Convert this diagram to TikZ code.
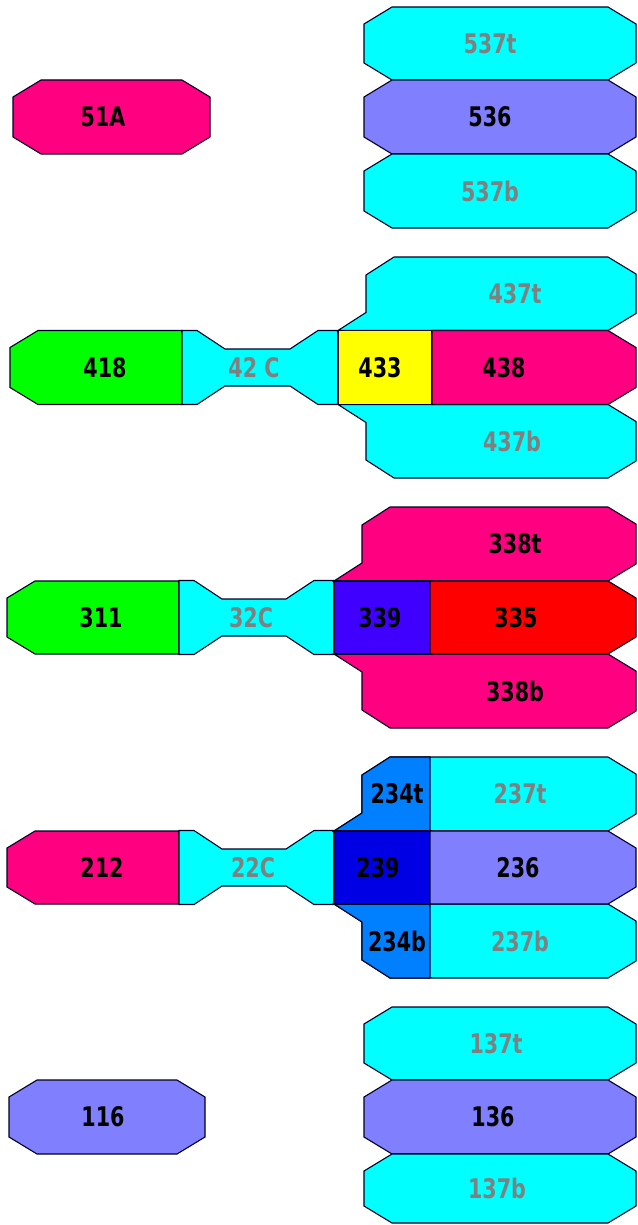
\documentclass[tikz,border=0pt]{standalone}
\usepackage{fontspec}
\usepackage{tikz}
\newfontfamily\cellfont{DejaVu Sans Condensed}
\definecolor{rose}{RGB}{255,0,128}
\definecolor{aqua}{RGB}{0,255,255}
\definecolor{lilac}{RGB}{128,128,255}
\definecolor{grass}{RGB}{0,255,0}
\definecolor{sunny}{RGB}{255,255,0}
\definecolor{violetblue}{RGB}{64,0,255}
\definecolor{scarlet}{RGB}{255,0,0}
\definecolor{deepblue}{RGB}{0,0,228}
\definecolor{skyblue}{RGB}{0,128,255}
\definecolor{labelgray}{RGB}{128,128,128}
\newcommand{\cutx}{28}
\newcommand{\cuty}{17}
% fill, left x, right x, top y, bottom y
\newcommand{\octbox}[5]{%
  \filldraw[cell, fill=#1] ({#2+\cutx},#4) -- ({#3-\cutx},#4) -- (#3,{#4+\cuty})
    -- (#3,{#5-\cuty}) -- ({#3-\cutx},#5) -- ({#2+\cutx},#5) -- (#2,{#5-\cuty})
    -- (#2,{#4+\cuty}) -- cycle;}
\newcommand{\leftbox}[5]{%
  \filldraw[cell, fill=#1] ({#2+\cutx},#4) -- (#3,#4) -- (#3,#5) -- ({#2+\cutx},#5)
    -- (#2,{#5-\cuty}) -- (#2,{#4+\cuty}) -- cycle;}
\newcommand{\rightbox}[5]{%
  \filldraw[cell, fill=#1] (#2,#4) -- ({#3-\cutx},#4) -- (#3,{#4+\cuty})
    -- (#3,{#5-\cuty}) -- ({#3-\cutx},#5) -- (#2,#5) -- cycle;}
% left x, right x, centre y
\newcommand{\neck}[3]{%
  \filldraw[cell, fill=aqua] (#1,{#3-37}) -- ({#1+15},{#3-37}) -- ({#1+43},{#3-18.5})
    -- ({#2-48},{#3-18.5}) -- ({#2-20},{#3-37}) -- (#2,{#3-37}) -- (#2,{#3+37})
    -- ({#2-20},{#3+37}) -- ({#2-48},{#3+18.5}) -- ({#1+43},{#3+18.5})
    -- ({#1+15},{#3+37}) -- (#1,{#3+37}) -- cycle;}
% fill, junction x, right x, top y, bottom y, right cut (1/0)
\newcommand{\topwing}[6]{%
  \filldraw[cell, fill=#1] (#2,#5) -- ({#2+\cutx},{#5-18}) -- ({#2+\cutx},{#4+18})
    -- ({#2+2*\cutx},#4) -- ({#3-#6*\cutx},#4) -- (#3,{#4+#6*\cuty})
    -- (#3,{#5-#6*\cuty}) -- ({#3-#6*\cutx},#5) -- cycle;}
\newcommand{\botwing}[6]{%
  \filldraw[cell, fill=#1] (#2,#4) -- ({#3-#6*\cutx},#4) -- (#3,{#4+#6*\cuty})
    -- (#3,{#5-#6*\cuty}) -- ({#3-#6*\cutx},#5) -- ({#2+2*\cutx},#5)
    -- ({#2+\cutx},{#5-18}) -- ({#2+\cutx},{#4+18}) -- cycle;}
\tikzset{
  cell/.style={draw=black!85!blue, line width=1.1pt},
  lbl/.style={font=\cellfont\bfseries\fontsize{27}{27}\selectfont, text=black,
              inner sep=0pt, xscale=0.85},
  glbl/.style={lbl, text=labelgray},
}

\begin{document}
\begin{tikzpicture}[x=1pt,y=-1pt]
  \useasboundingbox (0,0) rectangle (637,1225);
  % --- 5 ---
  \octbox{rose}{13}{210}{80}{154}
  \octbox{aqua}{364}{636}{7}{80}
  \octbox{lilac}{364}{636}{80}{154}
  \octbox{aqua}{364}{636}{154}{228}
  % --- 4 ---
  \leftbox{grass}{10}{182}{330.5}{404.5}
  \neck{182}{338}{367.5}
  \topwing{aqua}{338}{636}{257}{330.5}{1}
  \botwing{aqua}{338}{636}{404.5}{478}{1}
  \filldraw[cell, fill=sunny] (338,330.5) rectangle (432,404.5);
  \rightbox{rose}{432}{636}{330.5}{404.5}
  % --- 3 ---
  \leftbox{grass}{7}{179}{581}{654}
  \neck{179}{334}{617.5}
  \topwing{rose}{334}{636}{507}{581}{1}
  \botwing{rose}{334}{636}{654}{728}{1}
  \filldraw[cell, fill=violetblue] (334,581) rectangle (430,654);
  \rightbox{scarlet}{430}{636}{581}{654}
  % --- 2 ---
  \leftbox{rose}{7}{179}{831}{904}
  \neck{179}{334}{867.5}
  \topwing{aqua}{334}{636}{757}{831}{1}
  \botwing{aqua}{334}{636}{904}{978}{1}
  \topwing{skyblue}{334}{430}{757}{831}{0}
  \botwing{skyblue}{334}{430}{904}{978}{0}
  \filldraw[cell, fill=deepblue] (334,831) rectangle (430,904);
  \rightbox{lilac}{430}{636}{831}{904}
  % --- 1 ---
  \octbox{lilac}{9}{205}{1080}{1154}
  \octbox{aqua}{364}{636}{1007}{1080}
  \octbox{lilac}{364}{636}{1080}{1154}
  \octbox{aqua}{364}{636}{1154}{1223}

  % --- etiketler ---
  \foreach \t/\x/\y in {51A/103/117, 536/490/117, 418/105/367.5, 433/380/367.5,
      438/504/367.5, 311/101/617.5, 339/380/617.5, 335/516/617.5, 338t/515/544,
      338b/515/691, 212/102/867.5, 239/378/867.5, 236/518/867.5, 234t/397/794,
      234b/397/941, 116/103/1117, 136/493/1117}{
    \node[lbl] (n\t) at (\x,\y) {\t};
  }
  \foreach \t/\x/\y in {537t/490/43.5, 537b/490/191, 437t/515/294, 437b/512/441,
      32C/251/617.5, 22C/253/867.5, 237t/520/794, 237b/520/941,
      137t/496/1043.5, 137b/497/1188.5}{
    \node[glbl] (n\t) at (\x,\y) {\t};
  }
  \node[glbl] (n42C) at (254,367.5) {42 C};
\end{tikzpicture}
\end{document}
